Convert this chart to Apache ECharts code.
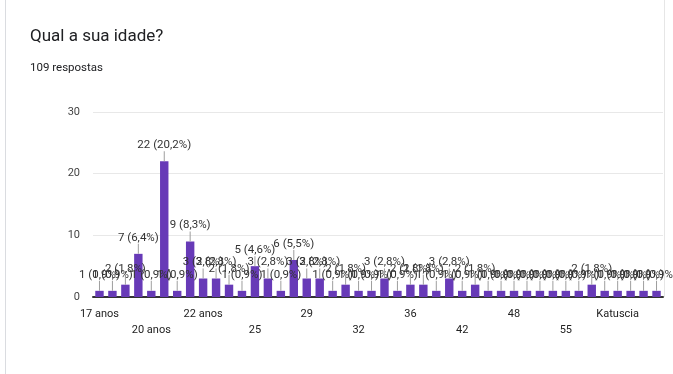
<!DOCTYPE html>
<html>
<head>
<meta charset="utf-8">
<script src="https://cdn.jsdelivr.net/npm/echarts@6/dist/echarts.min.js"></script>
<style>
  html, body { margin: 0; padding: 0; background: #ffffff; }
  #chart { width: 673px; height: 374px; }
</style>
</head>
<body>
<div id="chart"></div>
<script>
// Respostas à pergunta "Qual a sua idade?"
const categories = [
  '17 anos', '18', '18 anos', '19', '20 anos', '21', '21 anos', '22',
  '22 anos', '23', '24', '24 anos', '25', '26', '27', '28',
  '29', '30', '30 anos', '31', '32', '33', '34', '35',
  '36', '37', '38', '40', '42', '44', '45', '46',
  '48', '50', '51', '53', '55', '57', '58', '60',
  'Katuscia', 'Mais de 60', 'dezenove', 'vinte e um'
];
const counts = [
  1, 1, 2, 7, 1, 22, 1, 9,
  3, 3, 2, 1, 5, 3, 1, 6,
  3, 3, 1, 2, 1, 1, 3, 1,
  2, 2, 1, 3, 1, 2, 1, 1,
  1, 1, 1, 1, 1, 1, 2, 1,
  1, 1, 1, 1
];
const totalResponses = 109;
const yTicks = [0, 10, 20, 30];

const chart = echarts.init(document.getElementById('chart'), null, { renderer: 'canvas' });

const pct = v => (v / totalResponses * 100).toFixed(1).replace('.', ',');

chart.setOption({
  animation: false,
  textStyle: { fontFamily: 'Roboto, Arial, sans-serif' },
  title: [
    {
      text: 'Qual a sua idade?',
      left: 25, top: 23,
      textStyle: { fontSize: 17, fontWeight: 'normal', color: '#202124' }
    },
    {
      text: totalResponses + ' respostas',
      left: 25, top: 57,
      textStyle: { fontSize: 11.5, fontWeight: 'normal', color: '#202124' }
    }
  ],
  graphic: [
    { type: 'line', shape: { x1: 5.5, y1: 0, x2: 5.5, y2: 374 }, style: { stroke: '#dadce0', lineWidth: 1 } },
    { type: 'line', shape: { x1: 664.5, y1: 0, x2: 664.5, y2: 297 }, style: { stroke: '#e6e6e6', lineWidth: 1 } }
  ],
  grid: { left: 93, right: 10, top: 112, bottom: 77 },
  xAxis: {
    type: 'category',
    data: categories,
    axisLine: { show: true, lineStyle: { color: '#333', width: 2 } },
    axisTick: { show: false },
    axisLabel: {
      interval: 3,
      margin: 9,
      fontSize: 11,
      color: '#222',
      lineHeight: 16,
      formatter: (value, index) => (index % 8 === 4 ? '\n' + value : value)
    }
  },
  yAxis: {
    type: 'value',
    min: yTicks[0],
    max: yTicks[yTicks.length - 1],
    interval: 10,
    axisLine: { show: false },
    axisTick: { show: false },
    axisLabel: { fontSize: 11, color: '#444', margin: 13 },
    splitLine: { lineStyle: { color: '#e8e8e8', width: 1 } }
  },
  series: [{
    type: 'bar',
    data: counts,
    barCategoryGap: '35%',
    itemStyle: { color: '#673ab7' },
    label: {
      show: true,
      position: 'top',
      distance: 0,
      formatter: p => '{t|' + p.value + ' (' + pct(p.value) + '%)}\n{s| }',
      rich: {
        t: { fontSize: 11.5, color: '#333', lineHeight: 12 },
        s: { width: 1, height: 10, lineHeight: 10, backgroundColor: '#9e9e9e', fontSize: 1 }
      }
    }
  }]
});
</script>
</body>
</html>
